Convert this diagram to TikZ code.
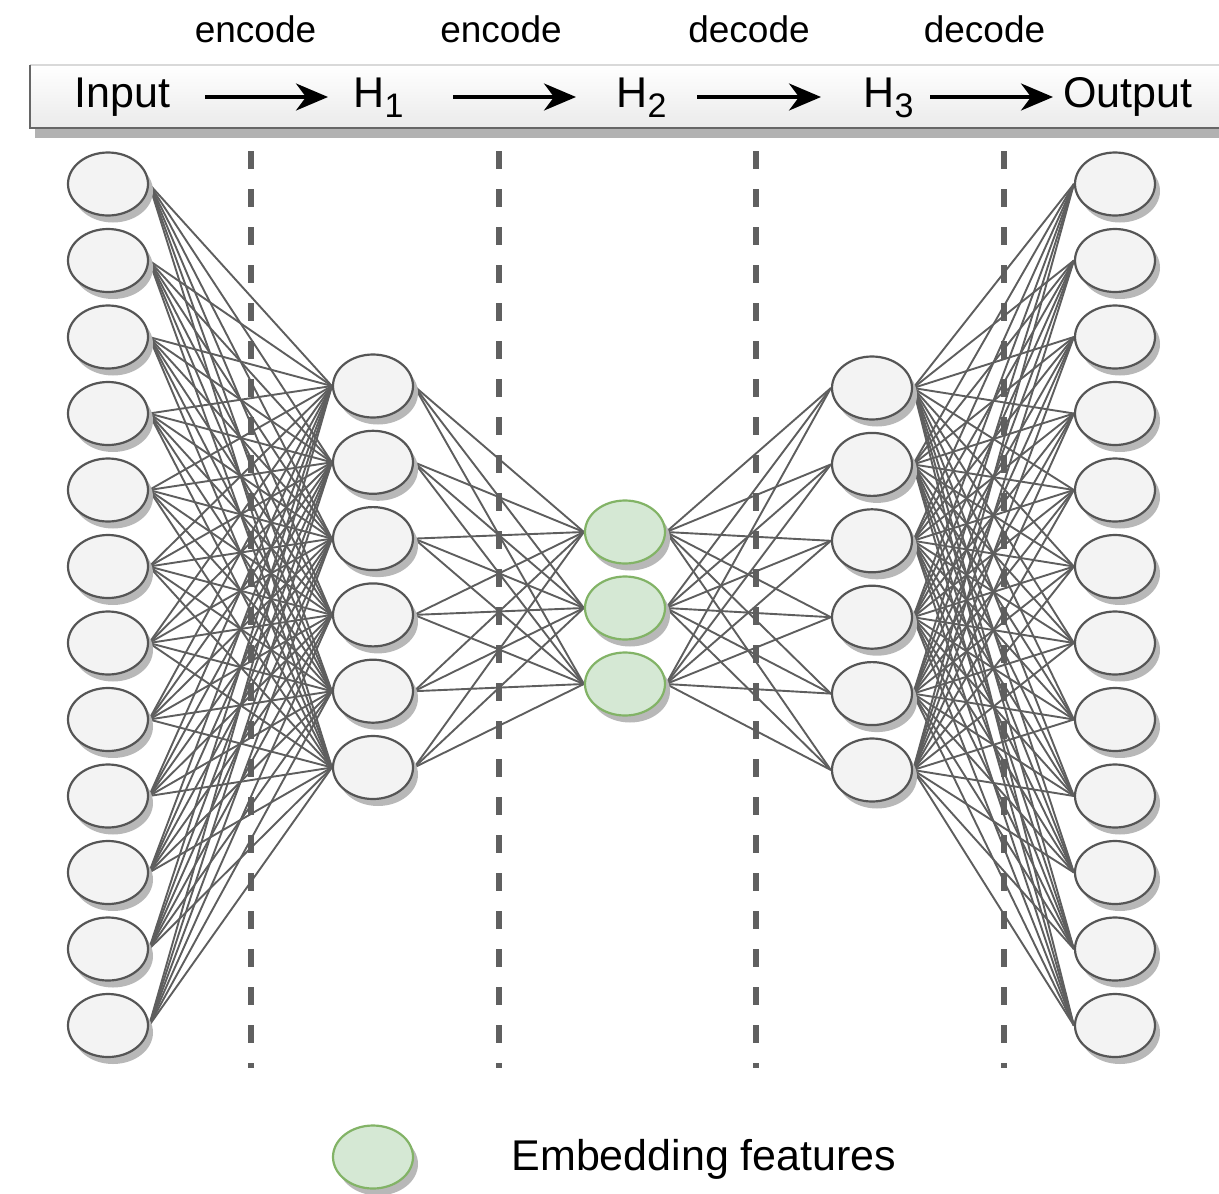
\documentclass[tikz,border=0pt]{standalone}
\usepackage{fontspec}
\setmainfont{Liberation Sans}
\usetikzlibrary{shapes.geometric,shadows,arrows.meta}
\definecolor{nodefill}{HTML}{F3F3F3}
\definecolor{nodeline}{HTML}{555555}
\definecolor{wirecol}{HTML}{5E5E5E}
\definecolor{embfill}{HTML}{D5E8D4}
\definecolor{embline}{HTML}{82B366}
\definecolor{sepcol}{HTML}{606060}
\pgfdeclarelayer{background}
\pgfsetlayers{background,main}
\newcommand\lowidx[1]{\raisebox{-10pt}{\fontsize{34}{34}\selectfont #1}}

\begin{document}
\begin{tikzpicture}[x=1pt,y=-1pt,
  neuron/.style={ellipse,minimum width=80pt,minimum height=63pt,inner sep=0pt,
    draw=nodeline,line width=2.2pt,fill=nodefill,
    drop shadow={shadow xshift=5pt,shadow yshift=-7pt,fill=black!28,opacity=1}},
  embed/.style={neuron,draw=embline,fill=embfill},
  wire/.style={draw=wirecol,line width=1.9pt},
  sepline/.style={draw=sepcol,line width=5.5pt,dash pattern=on 18pt off 20pt},
  headtxt/.style={font=\fontsize{43}{50}\selectfont,anchor=base,inner sep=0pt},
  steptxt/.style={font=\fontsize{37}{44}\selectfont,anchor=base,inner sep=0pt},
  harrow/.style={line width=3.6pt,black,arrows={-Stealth[length=32pt 0 0,width=27pt 0,inset=10pt 0]}}]

\useasboundingbox (0,0) rectangle (1219,1194);

% header bar
\path[top color=white,bottom color=black!8,
  drop shadow={shadow xshift=5pt,shadow yshift=-10pt,fill=black!30,opacity=1}]
  (30,65) rectangle (1240,128);
\draw[black!15,line width=1.2pt] (30,65) -- (1240,65);
\draw[black!60,line width=1.8pt] (30,65) -- (30,128) -- (1240,128);

% layer captions
\node[headtxt] (tin)  at (122.5,107) {Input};
\node[headtxt] (th1)  at (378.5,107) {H\lowidx{1}};
\node[headtxt] (th2)  at (641.5,107) {H\lowidx{2}};
\node[headtxt] (th3)  at (888.5,107) {H\lowidx{3}};
\node[headtxt] (tout) at (1128,107) {Output};

\coordinate (a1s) at (205,97);  \coordinate (a1e) at (328,97);
\coordinate (a2s) at (453,97);  \coordinate (a2e) at (576,97);
\coordinate (a3s) at (697,97);  \coordinate (a3e) at (821,97);
\coordinate (a4s) at (930,97);  \coordinate (a4e) at (1053,97);
\draw[harrow] (a1s) -- (a1e);
\draw[harrow] (a2s) -- (a2e);
\draw[harrow] (a3s) -- (a3e);
\draw[harrow] (a4s) -- (a4e);

\node[steptxt] (s1) at (255.5,42) {encode};
\node[steptxt] (s2) at (501,42)   {encode};
\node[steptxt] (s3) at (749,42)   {decode};
\node[steptxt] (s4) at (984.5,42) {decode};

% neurons
\foreach \i in {1,...,12} {
  \node[neuron] (in\i)  at (108,{184+(\i-1)*76.5}) {};
  \node[neuron] (out\i) at (1115,{184+(\i-1)*76.5}) {};
}
\foreach \i in {1,...,6} {
  \node[neuron] (ha\i) at (373,{386+(\i-1)*76.3}) {};
  \node[neuron] (hc\i) at (872,{388+(\i-1)*76.4}) {};
}
\node[embed] (hb1) at (625,532) {};
\node[embed] (hb2) at (625,608) {};
\node[embed] (hb3) at (625,684) {};

% stage separators and weights
\begin{pgfonlayer}{background}
  \foreach \x/\n in {251/1,499/2,756/3,1004/4} {
    \coordinate (d\n t) at (\x,151);
    \coordinate (d\n b) at (\x,1068);
    \draw[sepline] (d\n t) -- (d\n b);
  }
  \foreach \i in {1,...,12} \foreach \j in {1,...,6} {
    \draw[wire] (in\i.east) -- (ha\j.west);
    \draw[wire] (hc\j.east) -- (out\i.west);
  }
  \foreach \i in {1,...,6} \foreach \j in {1,2,3} {
    \draw[wire] (ha\i.east) -- (hb\j.west);
    \draw[wire] (hb\j.east) -- (hc\i.west);
  }
\end{pgfonlayer}

% legend
\node[embed] (leg) at (373,1157) {};
\node[headtxt] (legtxt) at (704,1170) {Embedding features};
\end{tikzpicture}
\end{document}
